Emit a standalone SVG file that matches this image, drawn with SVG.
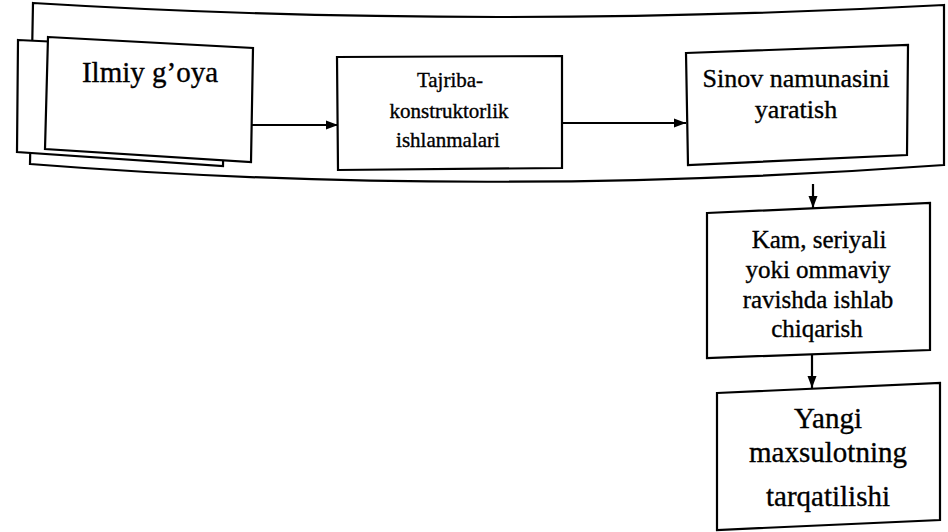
<svg xmlns="http://www.w3.org/2000/svg" width="948" height="532" viewBox="0 0 948 532">
  <defs>
    <marker id="arr" viewBox="0 0 12 10" refX="12" refY="5" markerWidth="12" markerHeight="10" markerUnits="userSpaceOnUse" orient="auto">
      <path d="M0,0.5 L12,5 L0,9.5 Z" fill="#000"/>
    </marker>
  </defs>
  <style>
    .box { fill: #fff; stroke: #000; stroke-width: 2.2; stroke-linejoin: miter; }
    .lbl { fill: #000; stroke: #000; stroke-width: 0.35; text-anchor: middle; }
    .conn { stroke: #000; stroke-width: 2.2; fill: none; }
  </style>
  <rect width="948" height="532" fill="#fff"/>

  <g id="container">
    <path class="box" d="M33,3 Q474,30 944,5 L944,165 Q474,199 30,164 Z"/>
  </g>

  <g id="ilmiy" font-family="'Liberation Serif', 'Times New Roman', serif">
    <polygon class="box" points="18,40 225,50 223,166 17,152"/>
    <polygon class="box" points="48,37 253,48 251,162 45,149"/>
    <text class="lbl" x="150" y="82" font-size="29">Ilmiy g’oya</text>
  </g>

  <g id="tajriba" font-family="'Liberation Serif', 'Times New Roman', serif">
    <polygon class="box" points="337,57 562,56 562,168 338,170"/>
    <text class="lbl" x="450" y="87" font-size="21">Tajriba-</text>
    <text class="lbl" x="449" y="118" font-size="21">konstruktorlik</text>
    <text class="lbl" x="448" y="147" font-size="21">ishlanmalari</text>
  </g>

  <g id="sinov" font-family="'Liberation Serif', 'Times New Roman', serif">
    <polygon class="box" points="686,53 908,45 907,155 688,165"/>
    <text class="lbl" x="796" y="87" font-size="26">Sinov namunasini</text>
    <text class="lbl" x="796" y="118" font-size="26">yaratish</text>
  </g>

  <g id="kam" font-family="'Liberation Serif', 'Times New Roman', serif">
    <polygon class="box" points="707,213 930,203 930,350 707,358"/>
    <text class="lbl" x="819" y="248" font-size="25">Kam, seriyali</text>
    <text class="lbl" x="818" y="278" font-size="25">yoki ommaviy</text>
    <text class="lbl" x="818" y="308" font-size="25">ravishda ishlab</text>
    <text class="lbl" x="817" y="337" font-size="25">chiqarish</text>
  </g>

  <g id="yangi" font-family="'Liberation Serif', 'Times New Roman', serif">
    <polygon class="box" points="717,393 940,383 940,520 717,530"/>
    <text class="lbl" x="828" y="428" font-size="29">Yangi</text>
    <text class="lbl" x="828" y="462" font-size="29">maxsulotning</text>
    <text class="lbl" x="828" y="506" font-size="29">tarqatilishi</text>
  </g>

  <g id="connectors">
    <line class="conn" x1="251" y1="125" x2="338" y2="125" marker-end="url(#arr)"/>
    <line class="conn" x1="562" y1="123" x2="686" y2="123" marker-end="url(#arr)"/>
    <line class="conn" x1="813" y1="184" x2="813" y2="208" marker-end="url(#arr)"/>
    <line class="conn" x1="812" y1="355" x2="812" y2="388" marker-end="url(#arr)"/>
  </g>
</svg>
